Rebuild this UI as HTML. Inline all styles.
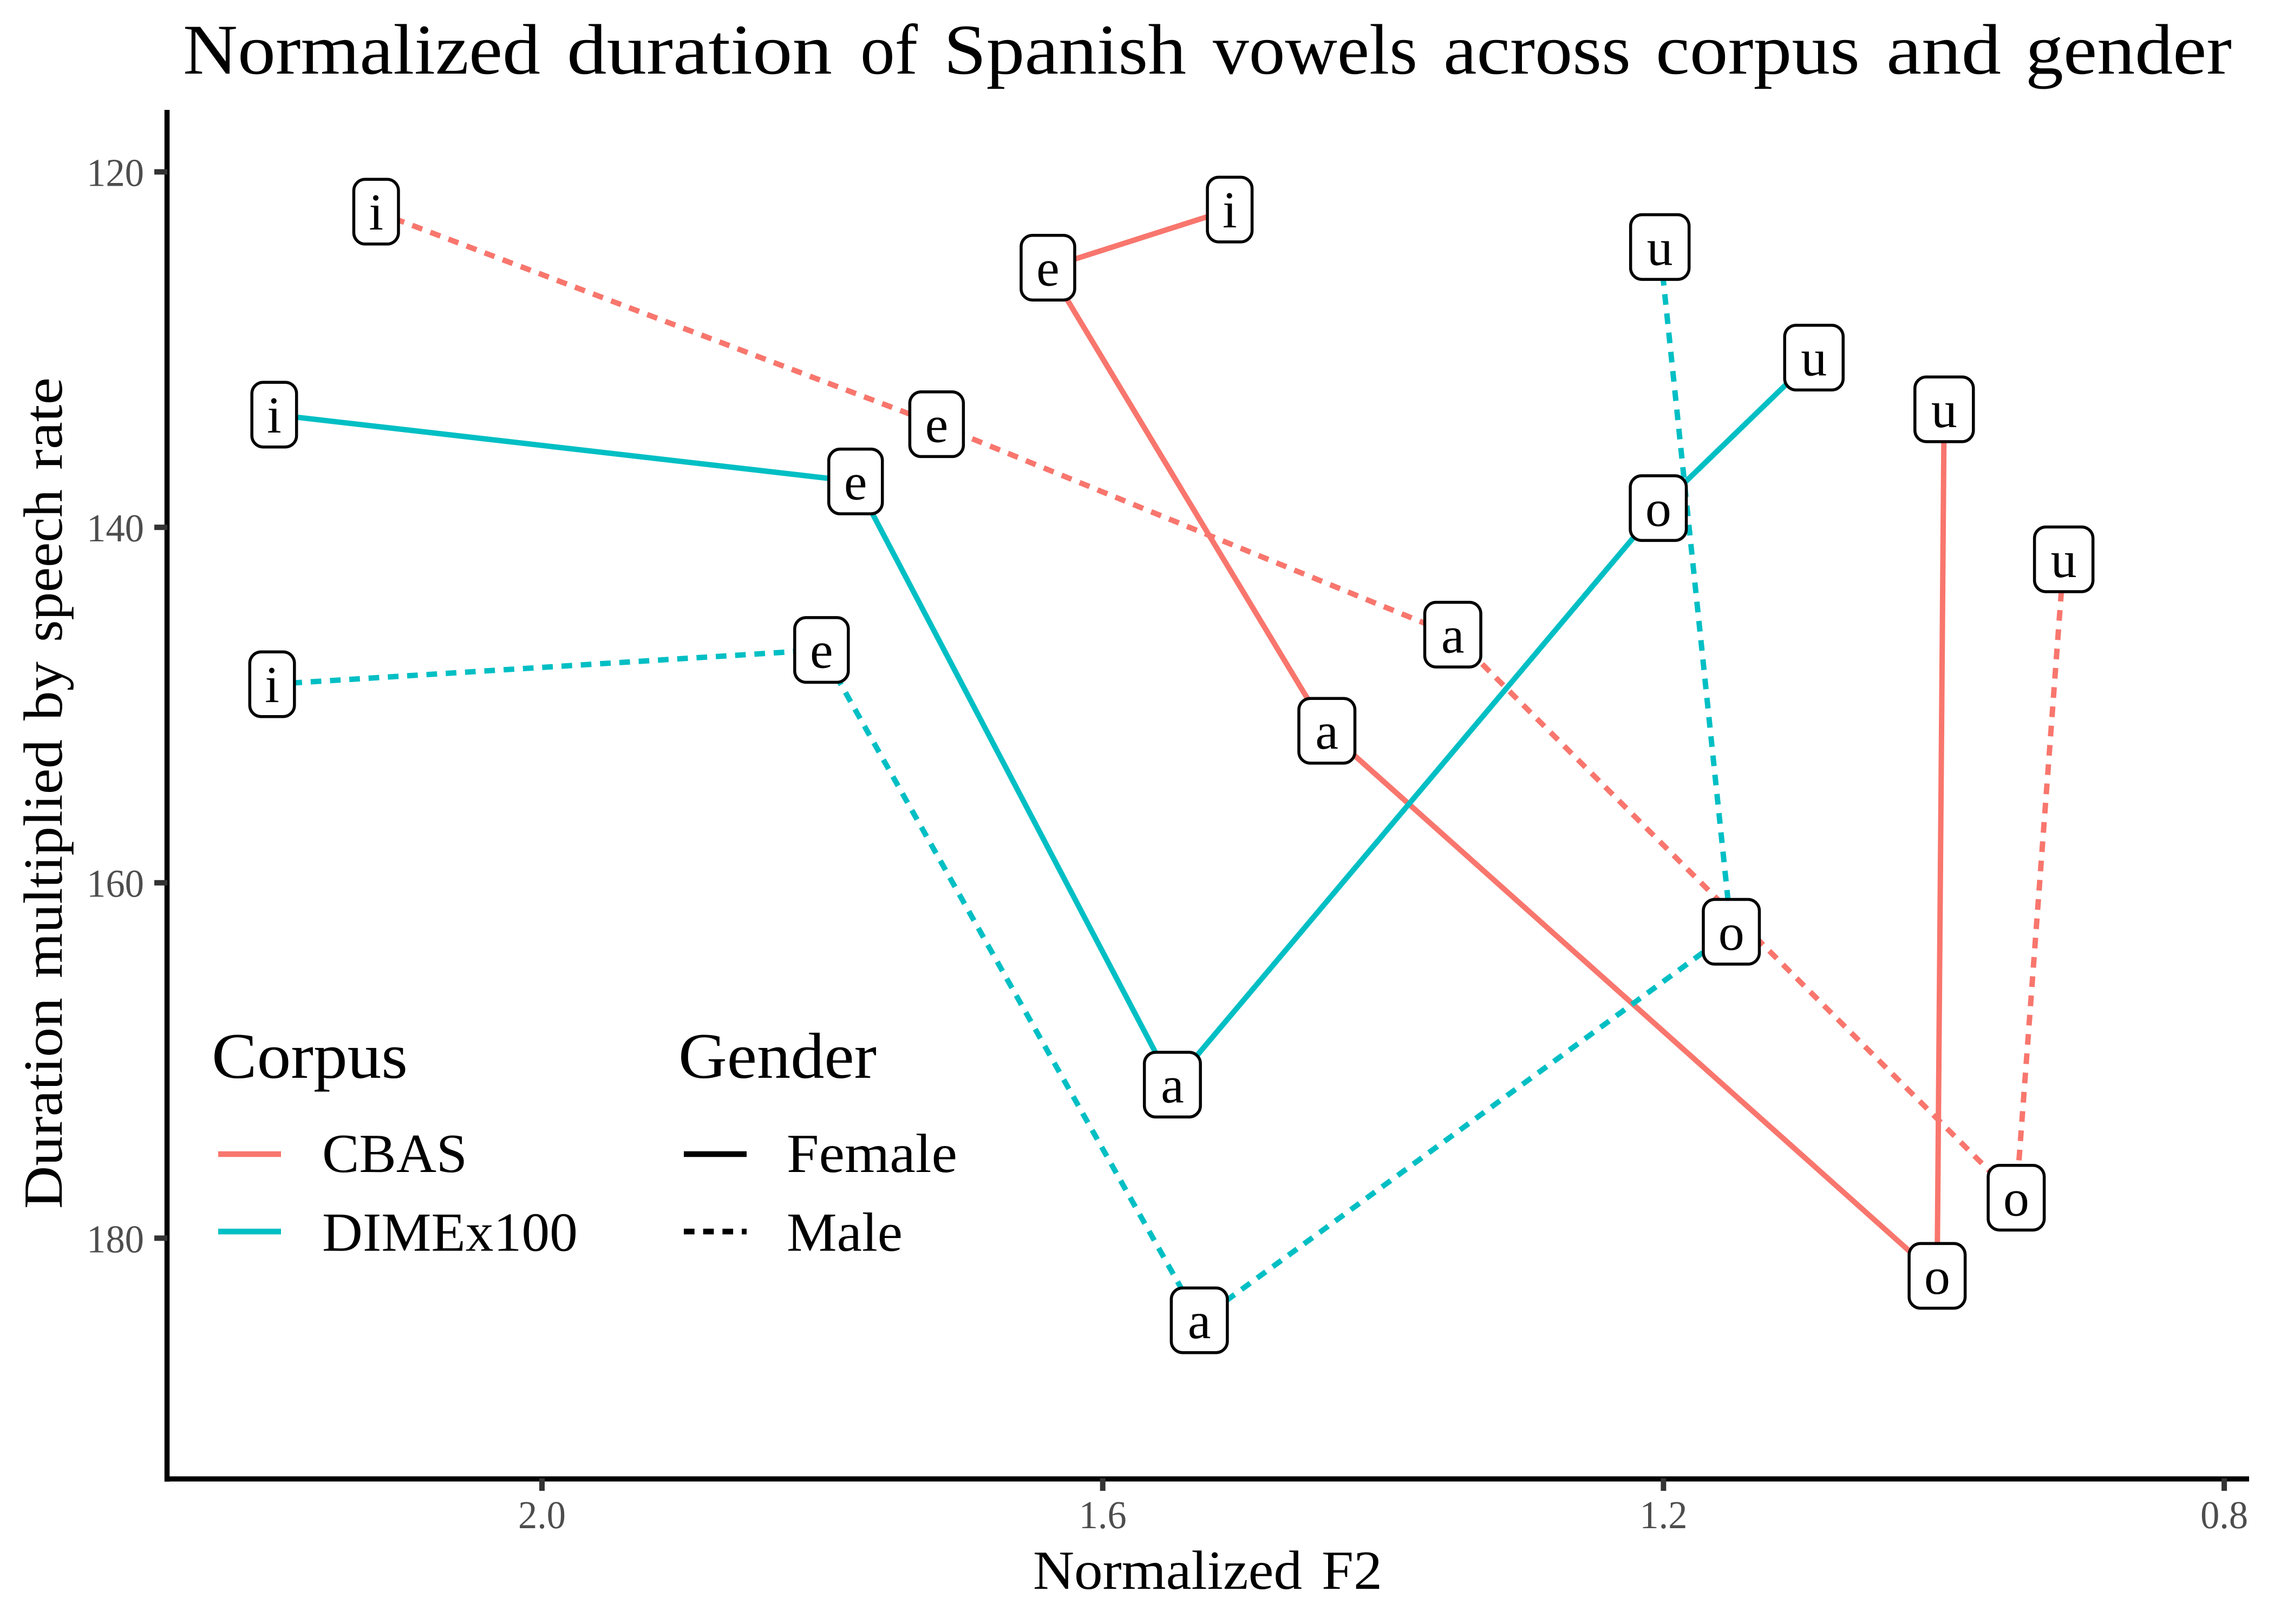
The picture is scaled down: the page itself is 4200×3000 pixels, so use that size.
<!DOCTYPE html>
<html lang="en">
<head>
<meta charset="utf-8">
<title>Normalized duration of Spanish vowels across corpus and gender</title>
<style>
html,body{margin:0;padding:0;background:#fff;}
svg{display:block;}
text{font-family:"Liberation Serif",serif;fill:#000;text-rendering:geometricPrecision;}
</style>
</head>
<body>
<svg id="chart" xmlns="http://www.w3.org/2000/svg" width="4200" height="3000" viewBox="0 0 4200 3000">
  <rect x="0" y="0" width="4200" height="3000" fill="#fff"/>
  <text y="136" font-size="132" lengthAdjust="spacingAndGlyphs"><tspan x="338" textLength="660" lengthAdjust="spacingAndGlyphs">Normalized</tspan> <tspan x="1047" textLength="490" lengthAdjust="spacingAndGlyphs">duration</tspan> <tspan x="1589" textLength="106" lengthAdjust="spacingAndGlyphs">of</tspan> <tspan x="1743" textLength="448" lengthAdjust="spacingAndGlyphs">Spanish</tspan> <tspan x="2240" textLength="378" lengthAdjust="spacingAndGlyphs">vowels</tspan> <tspan x="2666" textLength="346" lengthAdjust="spacingAndGlyphs">across</tspan> <tspan x="3058" textLength="377" lengthAdjust="spacingAndGlyphs">corpus</tspan> <tspan x="3484" textLength="212" lengthAdjust="spacingAndGlyphs">and</tspan> <tspan x="3741" textLength="381" lengthAdjust="spacingAndGlyphs">gender</tspan></text>
  <text transform="translate(114 2232) rotate(-90)" font-size="102"><tspan x="-1" textLength="390" lengthAdjust="spacingAndGlyphs">Duration</tspan> <tspan x="425" textLength="441" lengthAdjust="spacingAndGlyphs">multiplied</tspan> <tspan x="901" textLength="109" lengthAdjust="spacingAndGlyphs">by</tspan> <tspan x="1046" textLength="282" lengthAdjust="spacingAndGlyphs">speech</tspan> <tspan x="1364" textLength="171" lengthAdjust="spacingAndGlyphs">rate</tspan></text>
  <text y="2935" font-size="102"><tspan x="1908" textLength="497" lengthAdjust="spacingAndGlyphs">Normalized</tspan> <tspan x="2441" textLength="112" lengthAdjust="spacingAndGlyphs">F2</tspan></text>
  <g id="plot-lines"></g>
  <g id="plot-labels"></g>
  <g id="axes">
    <line x1="308.5" y1="203" x2="308.5" y2="2737" stroke="#000" stroke-width="9.5"/>
    <line x1="304" y1="2732" x2="4154" y2="2732" stroke="#000" stroke-width="9.5"/>
  </g>
  <g>
    <text x="391" y="1991" font-size="120" textLength="362" lengthAdjust="spacingAndGlyphs">Corpus</text>
    <line x1="403" y1="2132" x2="519" y2="2132" stroke="#F8766D" stroke-width="10.5"/>
    <text x="595" y="2165" font-size="102" textLength="268" lengthAdjust="spacingAndGlyphs">CBAS</text>
    <line x1="403" y1="2275" x2="519" y2="2275" stroke="#00BFC4" stroke-width="10.5"/>
    <text x="595" y="2310.5" font-size="102" textLength="472" lengthAdjust="spacingAndGlyphs">DIMEx100</text>
  </g>
  <g>
    <text x="1253" y="1991" font-size="120" textLength="366" lengthAdjust="spacingAndGlyphs">Gender</text>
    <line x1="1263" y1="2132" x2="1379" y2="2132" stroke="#000" stroke-width="10.5"/>
    <text x="1453" y="2165" font-size="102" textLength="315" lengthAdjust="spacingAndGlyphs">Female</text>
    <line x1="1263" y1="2275" x2="1379" y2="2275" stroke="#000" stroke-width="10.5" stroke-dasharray="19.7 16"/>
    <text x="1453" y="2310.5" font-size="102" textLength="214" lengthAdjust="spacingAndGlyphs">Male</text>
  </g>
</svg>
<script>
// Chart data
const vowels = ['i', 'e', 'a', 'o', 'u'];
const f2CbasFemale = [1.5094, 1.6391, 1.4401, 1.0048, 0.9998];
const durCbasFemale = [122.12, 125.39, 151.45, 182.12, 133.36];
const f2CbasMale = [2.1183, 1.7185, 1.3503, 0.9484, 0.9145];
const durCbasMale = [122.24, 134.20, 146.04, 177.72, 141.80];
const f2DimexFemale = [2.1910, 1.7763, 1.5503, 1.2037, 1.0927];
const durDimexFemale = [133.66, 137.42, 171.36, 138.92, 130.45];
const f2DimexMale = [2.1925, 1.8006, 1.5311, 1.1516, 1.2026];
const durDimexMale = [148.83, 146.90, 184.62, 162.76, 124.23];
const xTickValues = [2.0, 1.6, 1.2, 0.8];
const xTickLabels = ['2.0', '1.6', '1.2', '0.8'];
const yTickValues = [120, 140, 160, 180];
const yTickLabels = ['120', '140', '160', '180'];

const NS = 'http://www.w3.org/2000/svg';
function xScale(v) { return 1001 + (2 - v) * 2589.25; }
function yScale(v) { return 317.5 + (v - 120) * 32.83; }

const seriesList = [
  { key: 'cbas-female', f2: f2CbasFemale, dur: durCbasFemale, color: '#F8766D', dashed: false },
  { key: 'cbas-male', f2: f2CbasMale, dur: durCbasMale, color: '#F8766D', dashed: true },
  { key: 'dimex100-female', f2: f2DimexFemale, dur: durDimexFemale, color: '#00BFC4', dashed: false },
  { key: 'dimex100-male', f2: f2DimexMale, dur: durDimexMale, color: '#00BFC4', dashed: true }
];
const labelWidths = { i: 88, e: 104.5, a: 109, o: 109, u: 113.5 };

const linesGroup = document.getElementById('plot-lines');
const labelsGroup = document.getElementById('plot-labels');
const axesGroup = document.getElementById('axes');

seriesList.forEach(function (s) {
  const line = document.createElementNS(NS, 'polyline');
  
  
  line.setAttribute('points', s.f2.map(function (v, i) { return xScale(v) + ',' + yScale(s.dur[i]); }).join(' '));
  line.setAttribute('fill', 'none');
  line.setAttribute('stroke', s.color);
  line.setAttribute('stroke-width', '10');
  line.setAttribute('stroke-linejoin', 'round');
  if (s.dashed) line.setAttribute('stroke-dasharray', '19.7 16');
  linesGroup.appendChild(line);
});

seriesList.forEach(function (s) {
  vowels.forEach(function (vowel, i) {
    const cx = xScale(s.f2[i]);
    const cy = yScale(s.dur[i]);
    const w = labelWidths[vowel];
    const box = document.createElementNS(NS, 'rect');
    
    
    box.setAttribute('x', cx - w / 2 + 2.75);
    box.setAttribute('y', cy - 62.5 + 2.75);
    box.setAttribute('width', w - 5.5);
    box.setAttribute('height', 119.5);
    box.setAttribute('rx', 21);
    box.setAttribute('ry', 21);
    box.setAttribute('fill', '#fff');
    box.setAttribute('stroke', '#000');
    box.setAttribute('stroke-width', '5.5');
    labelsGroup.appendChild(box);
    const label = document.createElementNS(NS, 'text');
    
    
    label.setAttribute('x', cx);
    label.setAttribute('y', cy + 33);
    label.setAttribute('font-size', '96');
    label.setAttribute('text-anchor', 'middle');
    label.textContent = vowel;
    labelsGroup.appendChild(label);
  });
});

xTickValues.forEach(function (v, i) {
  const tick = document.createElementNS(NS, 'line');
  
  
  tick.setAttribute('x1', xScale(v));
  tick.setAttribute('x2', xScale(v));
  tick.setAttribute('y1', 2731);
  tick.setAttribute('y2', 2754);
  tick.setAttribute('stroke', '#333');
  tick.setAttribute('stroke-width', '10');
  axesGroup.appendChild(tick);
  const text = document.createElementNS(NS, 'text');
  
  
  text.setAttribute('x', xScale(v));
  text.setAttribute('y', 2823);
  text.setAttribute('font-size', '73');
  text.setAttribute('text-anchor', 'middle');
  text.setAttribute('textLength', '88');
  text.setAttribute('lengthAdjust', 'spacingAndGlyphs');
  text.style.fill = '#4D4D4D';
  text.textContent = xTickLabels[i];
  axesGroup.appendChild(text);
});

yTickValues.forEach(function (v, i) {
  const tick = document.createElementNS(NS, 'line');
  
  
  tick.setAttribute('x1', 285);
  tick.setAttribute('x2', 309);
  tick.setAttribute('y1', yScale(v));
  tick.setAttribute('y2', yScale(v));
  tick.setAttribute('stroke', '#333');
  tick.setAttribute('stroke-width', '10');
  axesGroup.appendChild(tick);
  const text = document.createElementNS(NS, 'text');
  
  
  text.setAttribute('x', 266);
  text.setAttribute('y', yScale(v) + 26);
  text.setAttribute('font-size', '73');
  text.setAttribute('text-anchor', 'end');
  text.setAttribute('textLength', '106');
  text.setAttribute('lengthAdjust', 'spacingAndGlyphs');
  text.style.fill = '#4D4D4D';
  text.textContent = yTickLabels[i];
  axesGroup.appendChild(text);
});
</script>
</body>
</html>
